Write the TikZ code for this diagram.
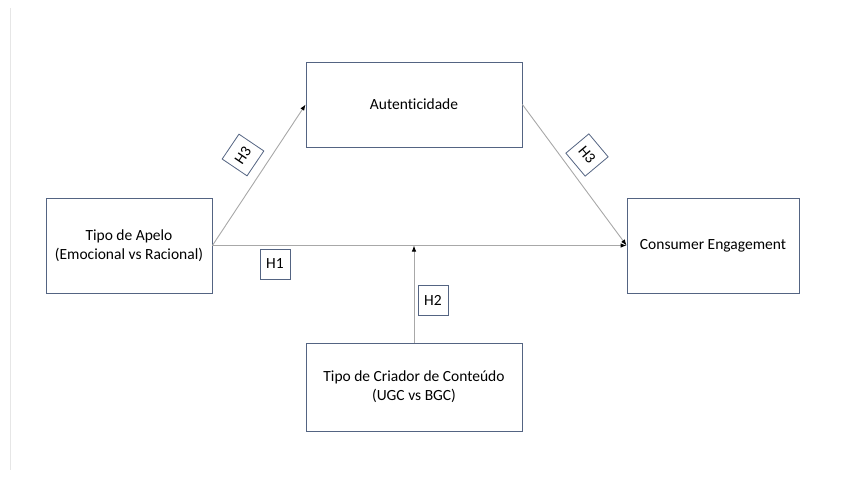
\documentclass[tikz,border=0pt]{standalone}
\usepackage{fontspec}
\setmainfont{Carlito}[Ligatures=NoCommon]
\usepackage{tikz}
\usetikzlibrary{arrows.meta,positioning,calc}
\definecolor{boxline}{RGB}{84,100,130}
\definecolor{linkgray}{RGB}{168,168,168}
\definecolor{pagegray}{RGB}{230,230,230}

\begin{document}
\begin{tikzpicture}[x=1pt, y=-1pt,
    varbox/.style={rectangle, draw=boxline, line width=0.8pt, fill=white,
        font=\fontsize{15.5}{19}\selectfont, align=center, inner sep=0pt},
    hyp/.style={rectangle, draw=boxline, line width=0.8pt, fill=white,
        font=\fontsize{15.5}{19}\selectfont, minimum width=30pt,
        minimum height=30pt, inner sep=0pt},
    arr/.style={-{Latex[length=6pt, width=4.5pt, color=black]}, linkgray,
        line width=0.9pt}
]
    \useasboundingbox (0,0) rectangle (846,479);
    \draw[pagegray, line width=0.8pt] (10,8) -- (10,470);

    % Nodes at fixed coordinates
    \node[varbox, minimum width=216pt, minimum height=85pt] (autent) at (414,104.5)
        {Autenticidade};
    \node[varbox, minimum width=166pt, minimum height=95pt] (apelo) at (129,245.5)
        {Tipo de Apelo\\(Emocional vs Racional)};
    \node[varbox, minimum width=172pt, minimum height=95pt] (engage) at (713,245.5)
        {Consumer Engagement};
    \node[varbox, minimum width=216pt, minimum height=88pt] (criador) at (414,387)
        {Tipo de Criador de Conteúdo\\(UGC vs BGC)};
    \coordinate (mod) at (criador.north |- apelo.east);

    % Arrows
    \draw[arr] (apelo.east) -- (autent.west);
    \draw[arr] (autent.east) -- (engage.west);
    \draw[arr] (apelo.east) -- (engage.west);
    \draw[arr] (criador.north) -- (mod);

    % Hypothesis labels
    \node[hyp, rotate=56] (h3a) at (243,155) {H3};
    \node[hyp, rotate=-50] (h3b) at (587,155) {H3};
    \node[hyp] (h1) at (275,264) {H1};
    \node[hyp] (h2) at (433,300) {H2};
\end{tikzpicture}
\end{document}
